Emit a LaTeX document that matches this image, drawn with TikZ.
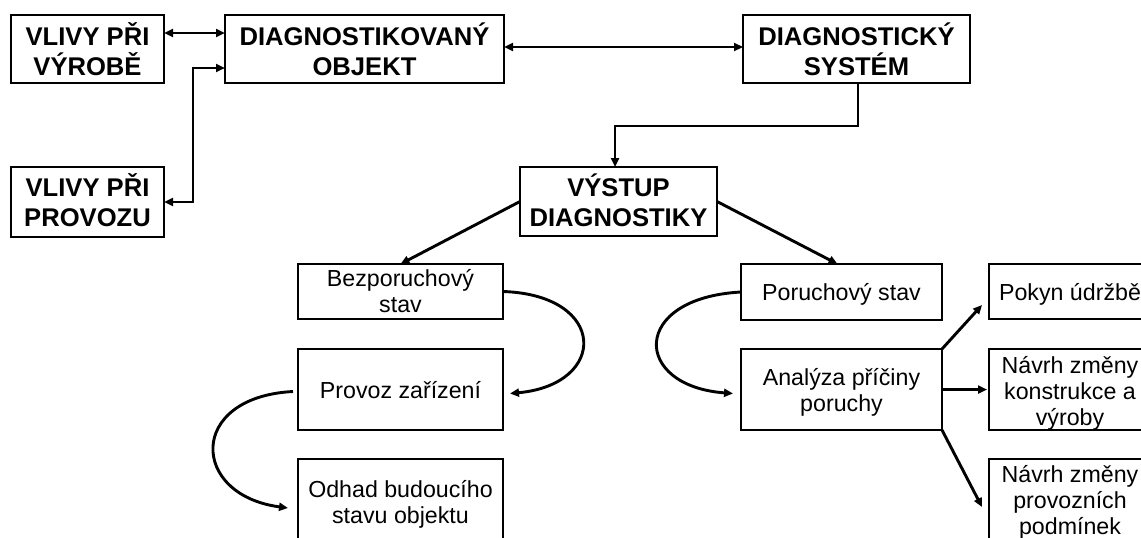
\documentclass[tikz,border=0pt]{standalone}
\usepackage{fontspec}
\setmainfont{Liberation Sans}
\usetikzlibrary{arrows.meta,calc}
\newcommand{\bxt}[2]{\parbox[t]{#1pt}{\centering #2}}
\tikzset{
  box/.style={draw, line width=2pt, inner sep=0pt, outer sep=0pt, anchor=north west},
  bx/.style n args={4}{minimum width=#1pt, minimum height=#2pt, text height=#3pt, text depth=#4pt},
  boldtxt/.style={font=\fontsize{25.6}{29.5}\selectfont\bfseries},
  normtxt/.style={font=\fontsize{23.2}{26}\selectfont},
  conn/.style={line width=2.9pt, -{Triangle[length=9pt,width=8pt]}},
  dconn/.style={line width=2.9pt, {Triangle[length=9pt,width=8pt]}-{Triangle[length=9pt,width=8pt]}},
}
\begin{document}
\begin{tikzpicture}[x=1pt,y=-1pt]
\useasboundingbox (0,0) rectangle (1141,538);
\fill[white] (0,0) rectangle (1141,538);
\clip (0,0) rectangle (1141,538);
% top row
\node[box, boldtxt, bx={153}{68}{30.5}{37.5}] (vyr) at (11,15) {\bxt{153}{VLIVY PŘI\\VÝROBĚ}};
\node[box, boldtxt, bx={279}{68}{30.5}{37.5}] (obj) at (225,15) {\bxt{279}{DIAGNOSTIKOVANÝ\\OBJEKT}};
\node[box, boldtxt, bx={227}{68}{30.5}{37.5}] (sys) at (743,15) {\bxt{227}{DIAGNOSTICKÝ\\SYSTÉM}};
\node[box, boldtxt, bx={153}{70}{29.7}{40.3}] (prov) at (11,167) {\bxt{153}{VLIVY PŘI\\PROVOZU}};
\node[box, boldtxt, bx={197}{69}{29.7}{39.3}] (vys) at (520,167) {\bxt{197}{VÝSTUP\\DIAGNOSTIKY}};
% left column
\node[box, normtxt, bx={205}{55}{22.7}{32.3}] (bez) at (298,264) {\bxt{205}{Bezporuchový\\stav}};
\node[box, normtxt, bx={205}{81}{49}{32}] (pz) at (298,349) {\bxt{205}{Provoz zařízení}};
\node[box, normtxt, bx={205}{90}{38}{52}] (odh) at (298,459) {\bxt{205}{Odhad budoucího\\stavu objektu}};
% right column
\node[box, normtxt, bx={201}{56}{36}{20}] (por) at (741,264) {\bxt{201}{Poruchový stav}};
\node[box, normtxt, bx={201}{81}{36}{45}] (ana) at (741,349) {\bxt{201}{Analýza příčiny\\poruchy}};
\node[box, normtxt, bx={162}{55}{36}{19}] (pok) at (989,264) {\bxt{162}{Pokyn údržbě}};
\node[box, normtxt, bx={162}{81}{24}{57}] (nav1) at (989,349) {\bxt{162}{Návrh změny\\konstrukce a\\výroby}};
\node[box, normtxt, bx={162}{100}{23}{77}] (nav2) at (989,459) {\bxt{162}{Návrh změny\\provozních\\podmínek}};
% connectors
\draw[dconn] ([yshift=16pt]vyr.east) -- ([yshift=16pt]vyr.east -| obj.west);
\draw[dconn] ([yshift=2pt]obj.east) -- ([yshift=2pt]obj.east -| sys.west);
\draw[dconn] ([yshift=-19pt]obj.west) -| ($(prov.east)+(29,0)$) -- (prov.east);
\coordinate (m) at (615,126);
\draw[conn] ([xshift=1.5pt]sys.south) |- (m) -- (m |- vys.north);
\draw[conn] (vys.west) -- (bez.north);
\draw[conn] (vys.east) -- ([xshift=-4pt]por.north);
\draw[conn] (bez.east) .. controls +(105,3.5) and +(98,-9) .. ($(pz.east)+(7,4)$);
\draw[conn] ($(pz.west)+(-5,2)$) .. controls +(-106,5.5) and +(-98,-13) .. ($(odh.west)+(-10,4)$);
\draw[conn] (por.west) .. controls +(-111,6) and +(-101,-7.5) .. ($(ana.west)+(-8,4)$);
\draw[conn] (ana.north east) -- ($(pok.west)+(-7,13.5)$);
\draw[conn] (ana.east) -- ([xshift=-2pt]nav1.west);
\draw[conn] (ana.south east) -- ($(nav2.west)+(-7,-2)$);
\end{tikzpicture}
\end{document}
